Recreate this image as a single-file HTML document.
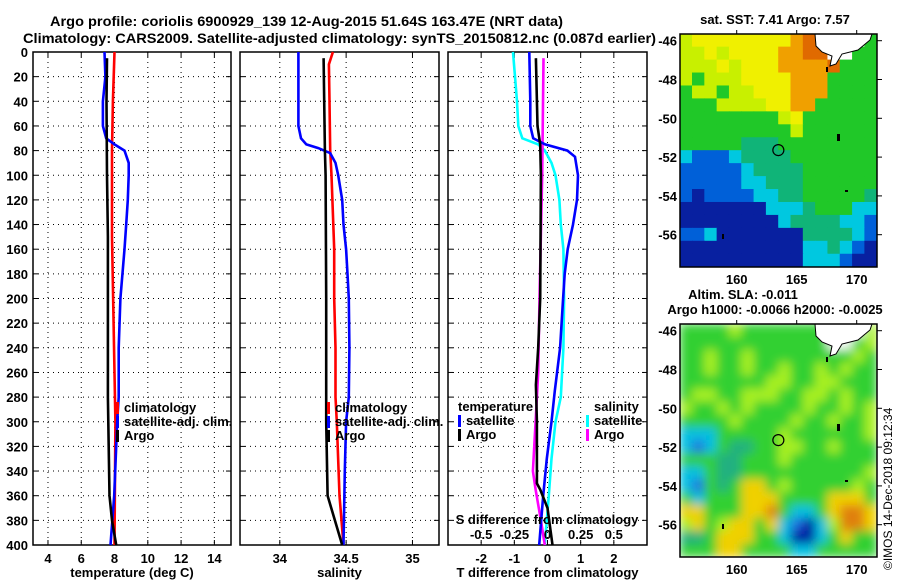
<!DOCTYPE html>
<html><head><meta charset="utf-8"><style>
html,body{margin:0;padding:0;background:#fff;}
svg text{font-family:"Liberation Sans",sans-serif;font-weight:bold;font-size:13px;fill:#000;}
</style></head><body>
<svg id="chart" width="900" height="580" viewBox="0 0 900 580" xmlns="http://www.w3.org/2000/svg">
<text x="50" y="26" textLength="513" lengthAdjust="spacingAndGlyphs" style="font-size:14px">Argo profile: coriolis 6900929_139 12-Aug-2015 51.64S 163.47E (NRT data)</text>
<text x="23" y="43" textLength="633" lengthAdjust="spacingAndGlyphs" style="font-size:14px">Climatology: CARS2009. Satellite-adjusted climatology: synTS_20150812.nc (0.087d earlier)</text>
<g id="plots"></g>
<g id="maps"></g>
</svg>
<script>
// ---------- data ----------
var depthTicks = [0,20,40,60,80,100,120,140,160,180,200,220,240,260,280,300,320,340,360,380,400];
// temperature panel
var tempTicks = [4,6,8,10,12,14];
var tSatDepth = [0,20,40,60,70,75,80,90,100,120,140,160,200,240,280,300,360,400];
var tSatVal   = [7.4,7.45,7.3,7.3,7.5,8.0,8.6,8.85,8.85,8.8,8.7,8.6,8.35,8.25,8.25,8.16,7.98,7.76];
var tClimDepth = [0,40,80,150,300,400];
var tClimVal   = [8.0,7.9,7.85,7.85,8.05,8.0];
var tArgoDepth = [5,40,100,150,280,360,380,400];
var tArgoVal   = [7.55,7.52,7.55,7.6,7.6,7.7,7.85,8.1];
// salinity panel
var salTicks = [34,34.5,35];
var sSatDepth = [0,60,70,75,78,82,90,100,120,140,160,180,200,240,280,300,340,400];
var sSatVal   = [34.14,34.14,34.16,34.2,34.29,34.38,34.42,34.44,34.47,34.48,34.5,34.51,34.52,34.525,34.52,34.5,34.49,34.48];
var sClimDepth = [0,10,40,80,100,160,200,240,280,300,360,400];
var sClimVal   = [34.4,34.37,34.375,34.38,34.39,34.41,34.41,34.42,34.42,34.43,34.45,34.48];
var sArgoDepth = [5,80,100,200,300,360,400];
var sArgoVal   = [34.33,34.34,34.345,34.35,34.35,34.36,34.47];
// difference panel
var tDiffTicks = [-2,-1,0,1,2];
var sDiffTicks = [-0.5,-0.25,0,0.25,0.5];
var dTSatDepth = [0,40,60,70,75,80,85,100,120,140,160,180,200,240,275,300,330,360,400];
var dTSatVal   = [-0.55,-0.52,-0.52,-0.43,-0.07,0.6,0.83,0.92,0.89,0.77,0.61,0.52,0.47,0.38,0.22,0.12,-0.02,-0.13,-0.25];
var dTArgoDepth = [5,60,75,100,200,240,270,300,350,355,370,400];
var dTArgoVal   = [-0.35,-0.3,-0.22,-0.2,-0.22,-0.28,-0.35,-0.32,-0.32,-0.22,0.0,0.15];
var dSSatDepth = [0,40,60,70,75,80,90,100,120,140,160,200,240,280,300,330,360,400];
var dSSatVal   = [-0.26,-0.23,-0.22,-0.19,-0.07,-0.02,0.03,0.06,0.09,0.1,0.12,0.125,0.12,0.1,0.06,0.03,0.01,-0.02];
var dSArgoDepth = [5,100,200,260,300,340,355,380,400];
var dSArgoVal   = [-0.03,-0.04,-0.06,-0.07,-0.09,-0.11,-0.09,-0.05,-0.02];

var NS="http://www.w3.org/2000/svg";
function mk(tag,attrs,parent){var e=document.createElementNS(NS,tag);for(var k in attrs)e.setAttribute(k,attrs[k]);parent.appendChild(e);return e;}
var plots=document.getElementById('plots');
var Y0=52,Y1=545;
function yScale(d){return Y0+(d/400)*(Y1-Y0);}

function panel(name,x0,x1,vmin,vmax,ticks,tickFmt,xTitle){
  var g=mk('g',{},plots);
  
  
  var xs=function(v){return x0+(v-vmin)/(vmax-vmin)*(x1-x0);};
  ticks.forEach(function(t){
    var l=mk('line',{x1:xs(t),x2:xs(t),y1:Y0,y2:Y1,stroke:'#000','stroke-width':1,'stroke-dasharray':'1,4'},g);
    
    
    mk('line',{x1:xs(t),x2:xs(t),y1:Y1,y2:Y1-5,stroke:'#000'},g);
    mk('line',{x1:xs(t),x2:xs(t),y1:Y0,y2:Y0+5,stroke:'#000'},g);
    var tx=mk('text',{x:xs(t),y:563,'text-anchor':'middle'},g);
    tx.textContent=tickFmt(t);
    
    
  });
  depthTicks.forEach(function(d){
    if(d>0&&d<400){
      var l=mk('line',{x1:x0,x2:x1,y1:yScale(d),y2:yScale(d),stroke:'#000','stroke-width':1,'stroke-dasharray':'1,4'},g);
      
      
    }
    mk('line',{x1:x0,x2:x0+5,y1:yScale(d),y2:yScale(d),stroke:'#000'},g);
    mk('line',{x1:x1,x2:x1-5,y1:yScale(d),y2:yScale(d),stroke:'#000'},g);
  });
  var fr=mk('rect',{x:x0,y:Y0,width:x1-x0,height:Y1-Y0,fill:'none',stroke:'#000','stroke-width':1.5},g);
  
  
  var tt=mk('text',{x:(x0+x1)/2,y:577,'text-anchor':'middle'},g);
  tt.textContent=xTitle;
  
  
  return {g:g,xs:xs};
}
function series(p,depths,vals,color,name,scale){
  var pts=depths.map(function(d,i){return p.xs(vals[i]*(scale||1)).toFixed(1)+','+yScale(d).toFixed(1);}).join(' ');
  var pl=mk('polyline',{points:pts,fill:'none',stroke:color,'stroke-width':2.6,'stroke-linejoin':'miter'},p.g);
  
  
}
function legendEntry(g,x,y,color,label,name){
  var e=mk('g',{},g);
  
  
  if(color) mk('rect',{x:x,y:y-10,width:3,height:12,fill:color},e);
  var t=mk('text',{x:x+8,y:y},e);t.textContent=label;
}

depthTicks.forEach(function(d){
  var t=mk('text',{x:28,y:yScale(d)+5,'text-anchor':'end'},plots);
  t.textContent=d;
  
  
});

var p1=panel('temperature-panel',33,231,3.1,15.0,tempTicks,function(t){return t;},'temperature (deg C)');
series(p1,tClimDepth,tClimVal,'#ff0000','temperature-climatology-line');
series(p1,tSatDepth,tSatVal,'#0000ff','temperature-satellite-line');
series(p1,tArgoDepth,tArgoVal,'#000000','temperature-argo-line');
legendEntry(p1.g,116,412,'#ff0000','climatology','legend-climatology');
legendEntry(p1.g,116,426,'#0000ff','satellite-adj. clim.','legend-satellite-adj');
legendEntry(p1.g,116,440,'#000000','Argo','legend-argo');

var p2=panel('salinity-panel',240,439,33.7,35.2,salTicks,function(t){return t;},'salinity');
series(p2,sClimDepth,sClimVal,'#ff0000','salinity-climatology-line');
series(p2,sSatDepth,sSatVal,'#0000ff','salinity-satellite-line');
series(p2,sArgoDepth,sArgoVal,'#000000','salinity-argo-line');
legendEntry(p2.g,327,412,'#ff0000','climatology','legend-climatology');
legendEntry(p2.g,327,426,'#0000ff','satellite-adj. clim.','legend-satellite-adj');
legendEntry(p2.g,327,440,'#000000','Argo','legend-argo');

var p3=panel('difference-panel',448,647,-3,3,tDiffTicks,function(t){return t;},'T difference from climatology');
series(p3,dSSatDepth,dSSatVal,'#00ffff','salinity-satellite-diff-line',4);
series(p3,dSArgoDepth,dSArgoVal,'#ff00ff','salinity-argo-diff-line',4);
series(p3,dTSatDepth,dTSatVal,'#0000ff','temperature-satellite-diff-line');
series(p3,dTArgoDepth,dTArgoVal,'#000000','temperature-argo-diff-line');
legendEntry(p3.g,450,411,null,'temperature','legend-temperature-header');
legendEntry(p3.g,458,425,'#0000ff','satellite','legend-temperature-satellite');
legendEntry(p3.g,458,439,'#000000','Argo','legend-temperature-argo');
legendEntry(p3.g,586,411,null,'salinity','legend-salinity-header');
legendEntry(p3.g,586,425,'#00ffff','satellite','legend-salinity-satellite');
legendEntry(p3.g,586,439,'#ff00ff','Argo','legend-salinity-argo');
var st=mk('text',{x:547,y:524,'text-anchor':'middle'},p3.g);
st.textContent='S difference from climatology';


sDiffTicks.forEach(function(t){
  var tx=mk('text',{x:p3.xs(t*4),y:539,'text-anchor':'middle'},p3.g);
  tx.textContent=t;
  
  
});

// ---------- maps ----------
var pal={D:'#e06a00',O:'#f0a000',Y:'#f0f000',L:'#c8f000',G:'#20c828',T:'#10b478',C:'#00c8e0',B:'#0060d8',N:'#0820a0',W:'#ffffff'};
var sstGrid=[
"LYYYYYYYYODDWWWG","LLYLYYYYOODDWWGG","LLLYLYYYOOOODGGG","LGLLLYYYYOOOGGGG",
"GLLGLLYYYOOOGGGG","GGGLLLLYYOOGGGGG","GGGGGGGGLYGGGGGG","GGGGGGGGGLGGGGGG",
"GGGGGTTTGGGGGGGG","CBBBCTTTTGGGGGGG","BBBBBCTTTTGGGGGG","BBBBBCCTTTGGGGGG",
"BNBBBBCCTTGGGGGT","NNNNNNNCCCTGGGCC","NNNNNNNNCTTTTCCB","BBCNNNNNNNTTTTCB",
"NNNNNNNNNNCCTCBN","NNNNNNNNNNCCCBNN"];
var pal2={G:'#30d030',L:'#a8f020',T:'#20b080',C:'#00c0e0',B:'#2070e0',N:'#0018a0',Y:'#f0d000',O:'#e08010',W:'#ffffff'};
var slaGrid=[
"GGGGLGGGGGGGWWWL","GGGGGGGGGGGGWWGL","GGLGGLGGGGGGGGLG","GGLGGLGGLGGLGLGG",
"GGGGGGGLLGGLLGGG","GLLGGLLLGGLLGLGG","LGGLGLGGGGLGGLGL","GGGGLGGGGLGGLGGL",
"CCCGGGGGLGGGGGGL","CBCGTTGGLLGGLGGG","GGGTTGGGLGGGGGGG","CCGTTGGGGGGGGGGL",
"CBGTGYYGLGGGGGLG","GCGGGYYYGGGGYYYG","YYGGGYYOGCCGYOOY","LYGLYYGYCBNCLOOY",
"TTGYYYGGCNNCGYGG","GGGYYGGGGCCGGGGG"];
var latTicks=[-46,-48,-50,-52,-54,-56];
var lonTicks=[160,165,170];
var profLon=163.47, profLat=-51.64;
var maps=document.getElementById('maps');
var defs=mk('defs',{},maps);
var f=mk('filter',{id:'blur',x:'0',y:'0',width:'1',height:'1'},defs);
mk('feGaussianBlur',{stdDeviation:'5',edgeMode:'duplicate'},f);
var cp1=mk('clipPath',{id:'clipA'},defs);mk('rect',{x:680,y:34,width:197,height:233},cp1);
var cp2=mk('clipPath',{id:'clipB'},defs);mk('rect',{x:680,y:324,width:197,height:233},cp2);

function drawMap(name,top,grid,pal,blur,clip,title1,title2,latTop){
  var g=mk('g',{},maps);
  
  
  var X0=680,W=197,H=233;
  var lonX=function(l){return 736.7+(l-160)*12;};
  var latY=function(l){return latTop+(-46-l)*19.4;};
  var img=mk('g',{'clip-path':'url(#'+clip+')'},g);
  var inner=mk('g',blur?{filter:'url(#blur)'}:{},img);
  var cw=W/16,ch=H/18;
  grid.forEach(function(row,r){
    for(var c=0;c<row.length;c++){
      mk('rect',{x:(X0+c*cw-0.3).toFixed(2),y:(top+r*ch-0.3).toFixed(2),width:(cw+0.6).toFixed(2),height:(ch+0.6).toFixed(2),fill:pal[row[c]]},inner);
    }
  });
  var land=mk('path',{d:'M815 '+top+' L872 '+top+' L870 '+(top+6)+' L858 '+(top+16)+' L842 '+(top+20)+' L836 '+(top+30)+' L830 '+(top+32)+' L832 '+(top+22)+' L822 '+(top+18)+' L816 '+(top+12)+' Z',fill:'#fff',stroke:'#000','stroke-width':1},img);
  
  
  mk('rect',{x:826,y:top+33,width:2,height:5,fill:'#000'},img);
  mk('rect',{x:837,y:top+100,width:3,height:7,fill:'#000'},img);
  mk('rect',{x:845,y:top+156,width:3,height:2,fill:'#000'},img);
  mk('rect',{x:722,y:top+200,width:2,height:5,fill:'#000'},img);
  var circ=mk('circle',{cx:lonX(profLon),cy:latY(profLat),r:5.5,fill:'none',stroke:'#000','stroke-width':1.2},g);
  
  
  var fr=mk('rect',{x:X0,y:top,width:W,height:H,fill:'none',stroke:'#000','stroke-width':1.5},g);
  
  
  latTicks.forEach(function(l){
    var y=latY(l);
    mk('line',{x1:X0+W,x2:X0+W+5,y1:y,y2:y,stroke:'#000'},g);
    var t=mk('text',{x:677,y:y+5,'text-anchor':'end'},g);
    t.textContent=l;
    
    
  });
  lonTicks.forEach(function(l){
    var x=lonX(l);
    mk('line',{x1:x,x2:x,y1:top,y2:top-4,stroke:'#000'},g);
    var t=mk('text',{x:x,y:top+H+17,'text-anchor':'middle'},g);
    t.textContent=l;
    
    
  });
  var t1=mk('text',{x:title2?743:775,y:title2?top-25:top-10,'text-anchor':'middle'},g);
  t1.textContent=title1;
  
  
  if(title2){
    var t2=mk('text',{x:775,y:top-10,'text-anchor':'middle'},g);
    t2.textContent=title2;
    
    
  }
}
drawMap('sst-map',34,sstGrid,pal,false,'clipA','sat. SST: 7.41  Argo: 7.57',null,40.7);
drawMap('sla-map',324,slaGrid,pal2,true,'clipB','Altim. SLA: -0.011','Argo h1000: -0.0066 h2000: -0.0025',330.7);
var cr=mk('text',{x:0,y:0,transform:'translate(892,570) rotate(-90)',style:'font-size:12px;font-weight:normal'},maps);
cr.textContent='©IMOS 14-Dec-2018 09:12:34';


</script>
</body></html>
